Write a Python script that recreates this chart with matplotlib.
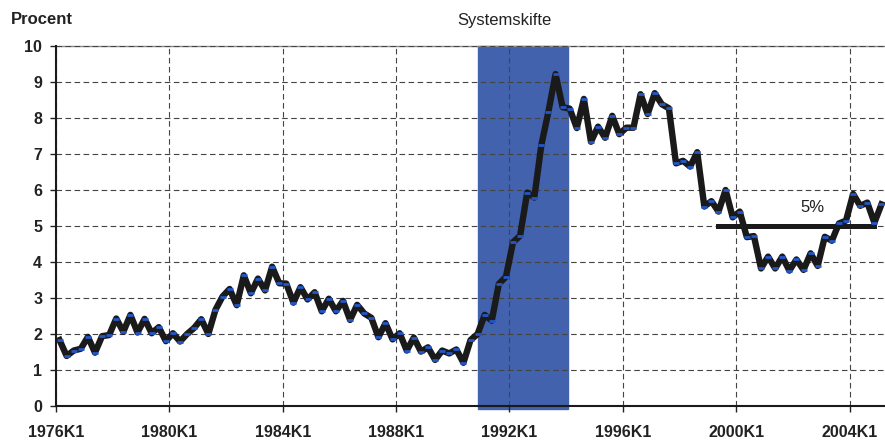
import matplotlib
matplotlib.use("Agg")
import matplotlib.pyplot as plt

plt.rcParams['font.family'] = ['Liberation Sans', 'DejaVu Sans']
plt.rcParams['lines.scale_dashes'] = False

# Quarterly series 1976K1 - 2005K1 (procent)
years = list(range(1976, 2006))
quarters = [f"{y}K{q}" for y in years for q in range(1, 5)][:117]
values = [
    1.83, 1.39, 1.54, 1.59, 1.92, 1.48, 1.94, 1.97, 2.43, 2.06,
    2.53, 2.04, 2.42, 2.02, 2.19, 1.80, 2.02, 1.79, 2.00, 2.17,
    2.41, 2.00, 2.67, 3.04, 3.25, 2.80, 3.63, 3.13, 3.54, 3.21,
    3.87, 3.41, 3.40, 2.87, 3.30, 2.96, 3.16, 2.63, 2.98, 2.63,
    2.92, 2.39, 2.81, 2.57, 2.45, 1.91, 2.30, 1.85, 2.02, 1.54,
    1.90, 1.51, 1.63, 1.28, 1.54, 1.46, 1.57, 1.20, 1.83, 2.00,
    2.53, 2.37, 3.39, 3.59, 4.55, 4.73, 5.93, 5.79, 7.25, 8.18,
    9.22, 8.30, 8.26, 7.72, 8.53, 7.34, 7.76, 7.45, 8.06, 7.55,
    7.73, 7.73, 8.66, 8.11, 8.69, 8.38, 8.27, 6.74, 6.81, 6.65,
    7.05, 5.54, 5.69, 5.40, 6.00, 5.24, 5.40, 4.69, 4.72, 3.82,
    4.15, 3.82, 4.15, 3.76, 4.07, 3.78, 4.24, 3.89, 4.70, 4.59,
    5.07, 5.15, 5.89, 5.56, 5.65, 5.09, 5.60,
]
tick_labels = [f"{y}K1" for y in range(1976, 2005, 4)]

# regime change period and target level
shift_start, shift_end = '1990K4', '1993K4'
target_value = 5
target_start, target_end = '1999K2', '2004K4'

x = list(range(len(values)))

fig = plt.figure(figsize=(8.85, 4.4), dpi=100)
ax = fig.add_axes([0.0633, 0.0773, 0.9367, 0.8182])

# shaded band
s0 = quarters.index(shift_start)
s1 = quarters.index(shift_end) + 0.75
ax.axvspan(s0, s1, ymin=-0.008, ymax=1, color='#4262AD', zorder=1, clip_on=False)

# series: thick black line with blue dash markers
ax.plot(x, values, color='#1a1a1a', lw=4.6, solid_joinstyle='round', zorder=3)
ax.plot(x, values, ls='none', marker='_', ms=4, mew=2, color='#2456C8', zorder=4)

# 5% target line
t0 = quarters.index(target_start)
t1 = quarters.index(target_end)
ax.plot([t0, t1], [target_value, target_value], color='#1a1a1a', lw=3.6,
        solid_capstyle='projecting', zorder=3)
ax.text(106.2, 5.5, '5%', fontsize=12, ha='center', va='center', color='#222222')

ax.set_xlim(-0.5, len(values) - 0.5)
ax.set_ylim(0, 10)
ax.set_yticks(range(0, 11))
tick_pos = [quarters.index(t) - 0.5 for t in tick_labels]
ax.set_xticks(tick_pos)
ax.set_xticklabels(tick_labels)

for lab in ax.get_xticklabels() + ax.get_yticklabels():
    lab.set_fontweight('bold')
    lab.set_fontsize(11.5)
    lab.set_color('#222222')

ax.tick_params(axis='y', length=4, width=1, pad=6, colors='#222222')
ax.tick_params(axis='x', length=4, width=1, pad=10, colors='#222222')

ax.grid(True, color='#444444', lw=0.8, ls=(0, (4, 2.5)), zorder=2)
ax.set_axisbelow(False)
for line in ax.get_xgridlines() + ax.get_ygridlines():
    line.set_zorder(2)

ax.spines['right'].set_visible(False)
ax.spines['top'].set_color('#888888')
ax.spines['top'].set_linewidth(1)
ax.spines['left'].set_color('#1a1a1a')
ax.spines['left'].set_linewidth(1.5)
ax.spines['bottom'].set_color('#1a1a1a')
ax.spines['bottom'].set_linewidth(1.5)
ax.spines['left'].set_zorder(5)
ax.spines['bottom'].set_zorder(5)

fig.text(11 / 885, 1 - 19.5 / 440, 'Procent', fontsize=12, fontweight='bold',
         ha='left', va='center', color='#222222')
fig.text(504 / 885, 1 - 20.5 / 440, 'Systemskifte', fontsize=12,
         ha='center', va='center', color='#222222')

fig.savefig('out.png', dpi=100)
